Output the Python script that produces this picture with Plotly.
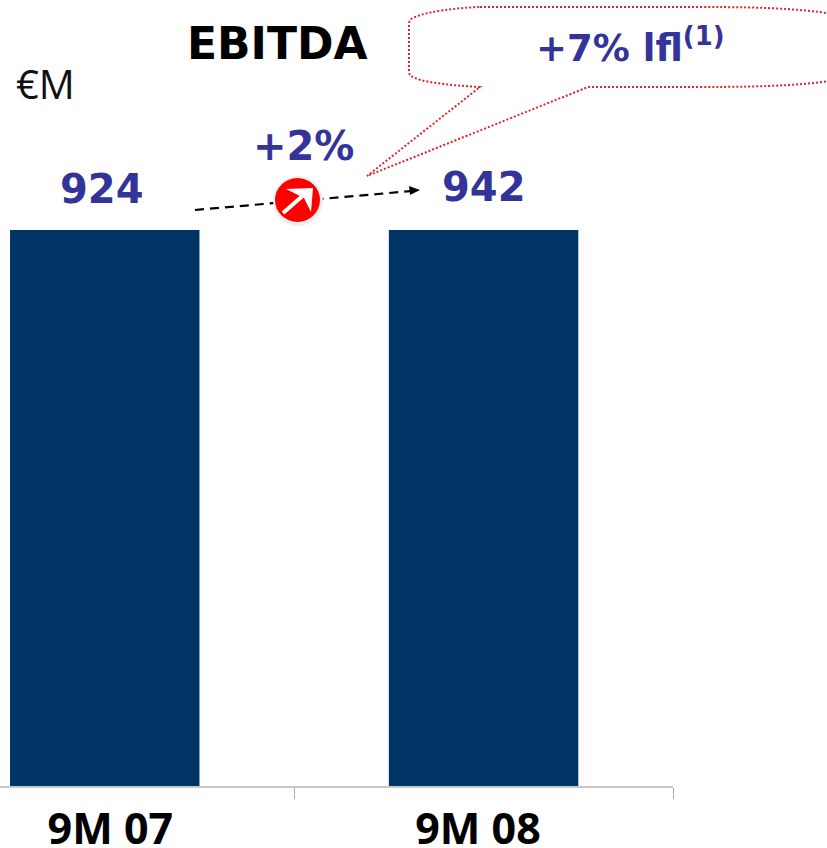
import plotly.graph_objects as go

categories = ["9M 07", "9M 08"]
values = [924, 942]
value_labels = ["924", "942"]
W, H = 827, 848
L, R, T, B = 0, 673, 230, 786
NAVY, BLUE, RED = "#003366", "#333399", "#D9262E"
BOLD = "DejaVu Sans"

px = lambda x: (x - L) / (R - L)
py = lambda y: (B - y) / (B - T)

def path(*cmds):
    out = []
    for c in cmds:
        if isinstance(c, str):
            out.append(c)
        else:
            out.append(f"{px(c[0]):.5f},{py(c[1]):.5f}")
    return " ".join(out)

fig = go.Figure(go.Bar(x=categories, y=values, width=0.5, marker_color=NAVY, marker_line_width=0))

def text(x, y, s, size, color, family=BOLD, bold=True):
    fig.add_annotation(xref="paper", yref="paper", x=px(x), y=py(y), text=f"<b>{s}</b>" if bold else s,
                       showarrow=False, xanchor="center", yanchor="middle",
                       font=dict(size=size, color=color, family=family))

text(277, 43, "EBITDA", 44, "#000000")
text(45, 83, "€M", 40, "#111111", "Open Sans", False)
text(102, 189, value_labels[0], 40, BLUE)
text(484, 187, value_labels[1], 40, BLUE)
text(303, 146, "+2%", 40, BLUE)
text(630, 45, "+7% lfl<sup>(1)</sup>", 37, BLUE)

# callout
fig.add_shape(type="path", xref="paper", yref="paper", line=dict(color=RED, width=2, dash="2px,2px"),
              path=path("M", (480, 7), "L", (700, 7), "C", (770, 7), (810, 9), (850, 17),
                        "L", (850, 78), "C", (810, 85), (770, 87), (700, 87),
                        "L", (588, 87), "L", (367, 176), "L", (480, 87),
                        "C", (445, 85), (420, 82), (411, 76), "Q", (409, 75), (409, 70),
                        "L", (409, 24), "Q", (409, 19), (415, 17), "C", (430, 11), (455, 8), (480, 7), "Z"))
# trend arrow
fig.add_shape(type="line", xref="paper", yref="paper", x0=px(195), y0=py(210), x1=px(412), y1=py(191),
              line=dict(color="#000000", width=2.2, dash="9px,6px"))
fig.add_shape(type="path", xref="paper", yref="paper", fillcolor="#000000", line_width=0,
              path=path("M", (420, 190), "L", (409, 186), "L", (410, 195), "Z"))
# badge
fig.add_shape(type="circle", xref="paper", yref="paper", x0=px(273), x1=px(323), y0=py(176), y1=py(226),
              fillcolor="#EEEEEE", line_width=0)
fig.add_shape(type="circle", xref="paper", yref="paper", x0=px(275), x1=px(320), y0=py(178), y1=py(222),
              fillcolor="#FF0000", line_width=0)
fig.add_shape(type="line", xref="paper", yref="paper", x0=px(283), y0=py(213), x1=px(306), y1=py(193),
              line=dict(color="#FFFFFF", width=4))
fig.add_shape(type="path", xref="paper", yref="paper", fillcolor="#FFFFFF", line_width=0,
              path=path("M", (286, 189), "L", (313, 188), "L", (311, 212), "L", (304, 198), "Z"))

fig.update_layout(
    width=W, height=H, margin=dict(l=L, r=W - R, t=T, b=H - B, autoexpand=False),
    paper_bgcolor="white", plot_bgcolor="white", showlegend=False,
    xaxis=dict(type="category", range=[-0.2765, 1.5], tickson="boundaries", ticks="outside", ticklen=11,
               tickwidth=1, tickcolor="#AAAAAA", showline=True, linecolor="#C8C8C8", linewidth=2,
               showgrid=False, zeroline=False, automargin=False, ticklabelstandoff=4,
               tickfont=dict(family="Open Sans", size=43, color="#000000")),
    yaxis=dict(range=[0, 900], visible=False, automargin=False),
)
fig.update_xaxes(ticktext=[f"\u00a0<b>{categories[0]}</b>", f"<b>{categories[1]}</b>\u00a0"], tickvals=categories)
fig.write_html("out.html", config={"displayModeBar": False},
               post_script="document.body.style.margin='0';document.documentElement.style.overflow='hidden';")
